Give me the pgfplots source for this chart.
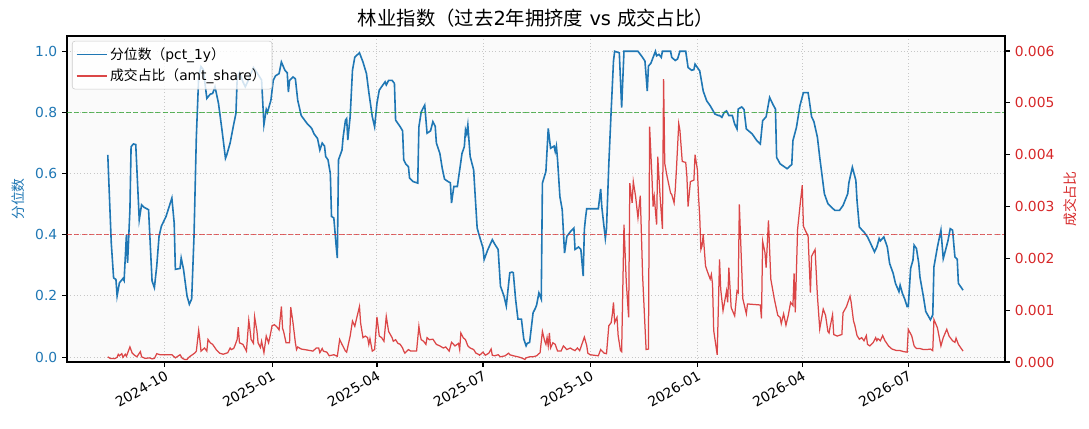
\documentclass[border=0pt]{standalone}
\usepackage{fontspec}
\setmainfont{DejaVu Sans}
\newfontfamily\cjk{Noto Sans CJK SC}
\usepackage{pgfplots}
\pgfplotsset{compat=1.18}
\usepackage{pgfplotstable}

\definecolor{mblue}{HTML}{1F77B4}
\definecolor{mred}{HTML}{D62728}
\definecolor{mgreen}{HTML}{2CA02C}

% x = days since 2024-10-01
\pgfplotstableread{
d v
-49 0.661
-46 0.373
-44 0.259
-42 0.254
-41 0.200
-39 0.243
-36 0.257
-35 0.250
-33 0.400
-32 0.308
-30 0.482
-29 0.688
-27 0.697
-25 0.695
-22 0.449
-20 0.498
-18 0.490
-14 0.482
-11 0.249
-9 0.227
-7 0.297
-5 0.395
-3 0.428
1 0.460
6 0.520
8 0.438
9 0.287
13 0.290
14 0.324
16 0.287
19 0.200
21 0.173
23 0.190
25 0.395
27 0.720
29 0.916
31 0.950
33 0.940
36 0.846
39 0.860
41 0.862
43 0.884
46 0.830
49 0.743
52 0.650
53 0.660
56 0.700
59 0.760
61 0.797
62 0.906
64 0.930
67 0.900
69 0.884
71 0.900
76 0.947
79 0.930
83 0.906
85 0.760
87 0.810
88 0.800
91 0.840
93 0.905
95 0.920
98 0.927
100 0.965
103 0.938
105 0.930
106 0.867
107 0.905
110 0.916
112 0.910
114 0.840
117 0.790
122 0.764
126 0.748
128 0.730
131 0.715
133 0.677
135 0.700
137 0.690
138 0.656
140 0.645
142 0.600
143 0.460
145 0.455
147 0.363
148 0.324
149 0.645
152 0.677
153 0.720
155 0.775
156 0.780
157 0.710
159 0.786
161 0.938
163 0.981
167 0.995
170 0.965
173 0.927
175 0.867
176 0.840
178 0.786
180 0.753
182 0.830
184 0.873
186 0.884
189 0.900
190 0.890
192 0.905
195 0.905
197 0.895
198 0.775
202 0.753
204 0.740
205 0.645
207 0.630
209 0.623
210 0.585
213 0.574
217 0.569
218 0.753
220 0.802
223 0.824
225 0.732
228 0.740
230 0.770
232 0.755
233 0.700
236 0.666
238 0.618
240 0.582
243 0.574
245 0.570
246 0.504
248 0.558
251 0.558
253 0.612
255 0.666
257 0.688
258 0.743
259 0.730
260 0.759
262 0.656
265 0.612
266 0.547
268 0.422
270 0.395
273 0.357
274 0.319
277 0.350
281 0.384
283 0.370
286 0.352
288 0.232
291 0.200
293 0.167
296 0.276
298 0.278
299 0.276
301 0.189
303 0.124
306 0.124
308 0.059
310 0.037
311 0.045
313 0.048
316 0.145
318 0.160
319 0.170
321 0.210
323 0.190
324 0.569
327 0.607
329 0.748
331 0.683
334 0.690
335 0.672
336 0.690
337 0.645
339 0.525
341 0.482
343 0.340
345 0.395
348 0.410
351 0.422
352 0.352
355 0.360
357 0.352
359 0.265
360 0.417
361 0.455
362 0.485
372 0.485
374 0.550
375 0.490
378 0.388
379 0.420
381 0.632
383 0.805
385 0.968
386 1.000
390 0.995
392 0.816
394 1.000
406 1.000
409 0.985
412 0.968
414 0.870
415 0.952
417 0.960
421 1.000
422 0.985
424 0.990
426 0.980
427 1.000
434 1.000
435 0.980
438 0.970
440 0.975
442 1.000
447 1.000
449 0.947
452 0.938
454 0.940
455 0.958
459 0.936
462 0.870
465 0.838
468 0.822
472 0.795
475 0.790
476 0.790
478 0.784
480 0.800
482 0.805
484 0.790
487 0.790
489 0.762
491 0.746
492 0.811
495 0.818
497 0.810
499 0.746
504 0.730
508 0.708
511 0.697
513 0.773
516 0.786
519 0.849
522 0.825
524 0.811
525 0.653
528 0.632
534 0.616
538 0.630
539 0.708
542 0.751
545 0.822
548 0.865
552 0.865
553 0.840
555 0.786
557 0.770
560 0.719
562 0.653
566 0.534
569 0.502
572 0.490
575 0.480
579 0.480
582 0.496
586 0.534
587 0.570
590 0.621
593 0.578
594 0.512
596 0.425
600 0.409
603 0.393
605 0.377
609 0.344
611 0.360
613 0.388
614 0.380
617 0.393
620 0.360
622 0.306
625 0.274
627 0.241
630 0.214
631 0.235
633 0.208
635 0.189
637 0.165
638 0.165
640 0.290
642 0.317
643 0.366
645 0.355
647 0.306
648 0.262
651 0.197
653 0.149
657 0.122
659 0.138
660 0.295
663 0.360
666 0.415
668 0.322
670 0.350
672 0.380
674 0.420
676 0.415
678 0.328
680 0.320
681 0.241
685 0.219
}\pctdata

\pgfplotstableread{
d r
-49 0.00010
-47 0.00007
-43 0.000065
-41 0.00009
-40 0.000148
-39 0.00012
-37 0.00016
-36 0.00009
-34 0.00015
-33 0.00011
-32 0.00017
-30 0.00029
-28 0.00017
-26 0.00013
-24 0.00010
-21 0.00020
-20 0.00010
-17 0.00007
-13 0.00008
-11 0.00006
-9 0.00007
-7 0.00016
-4 0.00014
6 0.00014
9 0.00008
11 0.00011
13 0.00014
15 0.00007
17 0.00005
19 0.00005
21 0.00010
23 0.00013
26 0.00018
27 0.00021
29 0.00061
30 0.00043
31 0.00021
34 0.00027
36 0.00021
37 0.000435
39 0.00037
41 0.00034
44 0.00024
47 0.00017
50 0.00015
54 0.00018
56 0.00027
57 0.00024
59 0.00026
60 0.00031
62 0.000435
63 0.00067
64 0.00037
67 0.00034
70 0.00021
72 0.000805
73 0.00063
74 0.000435
76 0.00036
77 0.00087
79 0.00060
80 0.00037
82 0.00028
83 0.00040
85 0.00018
87 0.00050
89 0.00037
90 0.00047
92 0.00070
94 0.00072
96 0.00068
98 0.00062
100 0.00107
101 0.00065
102 0.00058
104 0.00037
107 0.00037
108 0.00106
110 0.00075
112 0.00037
113 0.00024
114 0.00029
117 0.00025
125 0.00022
127 0.00021
130 0.00027
132 0.00027
133 0.00018
135 0.00026
136 0.00021
139 0.00019
141 0.00012
145 0.00014
148 0.00011
150 0.000435
152 0.00034
155 0.00021
156 0.00019
159 0.00050
161 0.00079
163 0.00069
164 0.00079
167 0.00107
168 0.00075
170 0.00047
172 0.00050
174 0.00047
175 0.00034
176 0.00045
178 0.00021
180 0.00024
182 0.00087
184 0.00050
186 0.00047
188 0.00040
190 0.00088
192 0.00059
195 0.00047
196 0.00040
198 0.00043
200 0.00036
202 0.00034
204 0.00027
205 0.00021
206 0.00017
209 0.00024
211 0.00021
216 0.00021
218 0.00069
219 0.00053
220 0.00043
222 0.00040
224 0.00034
225 0.00047
227 0.00043
230 0.00044
233 0.00034
236 0.00031
239 0.00027
241 0.00029
244 0.00021
246 0.00038
249 0.00031
252 0.00036
253 0.00024
254 0.00056
256 0.00047
258 0.00043
260 0.00031
262 0.00027
265 0.00024
267 0.00017
269 0.00015
270 0.00013
273 0.00019
275 0.00013
278 0.00017
280 0.00025
281 0.00013
283 0.00012
286 0.00014
288 0.00010
292 0.00012
295 0.00017
296 0.00014
299 0.00012
303 0.00010
306 0.00008
309 0.00005
310 0.00008
313 0.00010
316 0.00010
319 0.00012
322 0.00018
324 0.00059
326 0.00040
327 0.00034
328 0.00047
329 0.00031
330 0.00056
331 0.00027
333 0.00037
335 0.00034
337 0.00021
340 0.00021
342 0.00031
345 0.00024
348 0.00027
350 0.00024
352 0.00022
354 0.00027
356 0.00022
360 0.00048
362 0.00032
363 0.00017
365 0.00014
372 0.00012
374 0.00024
377 0.00017
379 0.00016
381 0.00070
383 0.00076
384 0.00092
385 0.00115
386 0.00076
388 0.00086
389 0.00051
391 0.00022
392 0.00020
394 0.00265
396 0.00153
398 0.00086
399 0.00345
401 0.00307
402 0.00348
404 0.00319
406 0.00278
408 0.00321
410 0.00166
412 0.00070
413 0.00024
415 0.00025
416 0.00454
418 0.00358
419 0.00300
420 0.00319
422 0.00265
423 0.00396
425 0.00319
427 0.00257
428 0.00546
429 0.00383
431 0.00358
434 0.00326
435 0.00323
437 0.00307
438 0.00332
439 0.00371
441 0.00460
442 0.00447
444 0.00387
447 0.00385
448 0.00358
449 0.00300
451 0.00348
454 0.00351
455 0.00400
457 0.00371
458 0.00319
459 0.00281
460 0.00217
461 0.00224
462 0.00246
464 0.00185
466 0.00172
468 0.00160
469 0.00169
470 0.00150
471 0.00061
474 0.00014
476 0.00198
477 0.00141
479 0.00099
482 0.00137
483 0.00115
484 0.00182
486 0.00105
489 0.00089
491 0.00137
492 0.00134
493 0.00304
494 0.00243
496 0.00122
499 0.00093
500 0.00112
511 0.00110
512 0.00084
513 0.00233
515 0.00211
516 0.00182
518 0.00273
520 0.00160
523 0.00122
526 0.00090
528 0.00086
529 0.00074
531 0.00093
533 0.00071
535 0.00090
537 0.00115
539 0.00109
540 0.00171
541 0.00096
543 0.00256
545 0.00300
547 0.00341
548 0.00262
550 0.00252
552 0.00243
554 0.00134
555 0.00204
558 0.00217
560 0.00128
562 0.00064
565 0.00102
567 0.00090
569 0.00059
570 0.00056
571 0.00069
573 0.00091
574 0.00053
577 0.00050
581 0.00053
582 0.00095
585 0.00107
588 0.00127
589 0.00115
591 0.00079
592 0.00072
594 0.00051
596 0.00044
598 0.00047
600 0.00041
602 0.00051
603 0.00034
605 0.00031
608 0.00038
610 0.00047
611 0.00041
612 0.00045
614 0.00041
616 0.00051
618 0.00041
621 0.00031
624 0.00025
628 0.00022
631 0.00022
634 0.00020
637 0.00019
638 0.00063
641 0.00050
643 0.00031
645 0.00026
648 0.00026
651 0.00024
654 0.00024
657 0.00025
659 0.00022
660 0.00082
663 0.00066
666 0.00031
668 0.00047
671 0.00063
673 0.00050
676 0.00041
678 0.00038
679 0.00046
681 0.00034
685 0.00021
}\sharedata

\newcommand{\tickfont}{\fontsize{10}{12}\selectfont}

\pgfplotsset{
  base/.style={
    width=675.36bp, height=234.72bp, scale only axis,
    at={(0,0)}, anchor=south west,
    xmin=-84, xmax=721,
    tick align=outside, major tick length=3.5bp,
    every tick/.style={black, line width=0.8bp},
    axis line style={line width=0.8bp},
    ticklabel style={font=\tickfont},
    label style={font=\tickfont},
    /pgf/number format/assume math mode=true,
  },
}

\begin{document}
\begin{tikzpicture}
\path[use as bounding box] (-48.24bp,-48.24bp) rectangle (735.84bp,260.64bp);

\begin{axis}[base,
  axis background/.style={fill=black!2},
  tick pos=left,
  ymin=-0.016, ymax=1.05,
  ytick={0,0.2,0.4,0.6,0.8,1},
  yticklabel style={text=mblue, /pgf/number format/.cd, fixed, fixed zerofill, precision=1},
  xtick={0,92,182,273,365,457,547,638},
  xticklabels={2024-10,2025-01,2025-04,2025-07,2025-10,2026-01,2026-04,2026-07},
  xticklabel style={rotate=30, anchor=north east, inner sep=1.5bp},
  grid=major, grid style={dotted, black!22, line width=0.7bp},
  ylabel={\cjk 分位数},
  ylabel style={text=mblue, at={(axis description cs:-0.0522,0.5)}, anchor=center},
  title={{\cjk 林业指数（过去}2{\cjk 年拥挤度} vs {\cjk 成交占比）}},
  title style={font=\fontsize{14}{16}\selectfont, at={(axis description cs:0.5,1)}, anchor=base, yshift=1.5bp},
]
\addplot[mblue, line width=1.15bp] table[x=d, y=v] {\pctdata};
\draw[mgreen, opacity=0.75, line width=0.8bp, dash pattern=on 3.7bp off 1.6bp]
  (axis cs:-84,0.8) -- (axis cs:721,0.8);
\draw[mred, opacity=0.7, line width=0.8bp, dash pattern=on 3.7bp off 1.6bp]
  (axis cs:-84,0.4) -- (axis cs:721,0.4);
\end{axis}

\begin{axis}[base,
  axis y line*=right, axis x line=none,
  ymin=0, ymax=0.00629,
  ytick={0,0.001,0.002,0.003,0.004,0.005,0.006},
  scaled y ticks=false,
  yticklabel style={text=mred, /pgf/number format/.cd, fixed, fixed zerofill, precision=3},
  ylabel={\cjk 成交占比},
  ylabel style={text=mred, at={(axis description cs:1.0693,0.5)}, anchor=center},
  legend cell align=left,
  legend style={at={(axis description cs:0.0053,0.985)}, anchor=north west,
    draw=black!20, rounded corners=2bp, fill=white, fill opacity=0.8, text opacity=1,
    font=\fontsize{10}{12}\selectfont, inner sep=2.5bp, row sep=1.5bp},
  legend image code/.code={\draw[#1] (0bp,0bp) -- (21.6bp,0bp);},
]
\addlegendimage{mblue, line width=1.15bp}
\addlegendentry{{\cjk 分位数（}pct\_1y{\cjk ）}}
\addplot[mred, opacity=0.85, line width=0.9bp] table[x=d, y=r] {\sharedata};
\addlegendentry{{\cjk 成交占比（}amt\_share{\cjk ）}}
\end{axis}
\end{tikzpicture}
\end{document}
